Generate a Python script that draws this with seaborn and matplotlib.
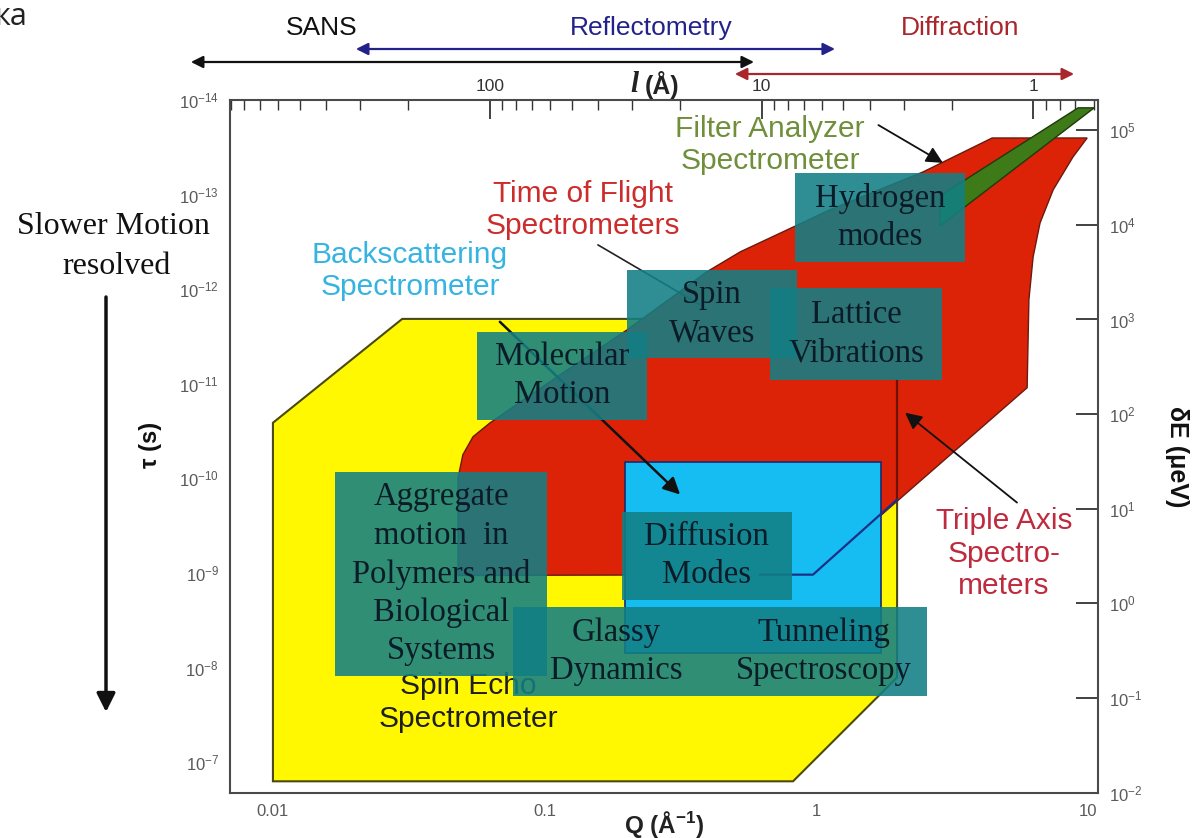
import numpy as np
import pandas as pd
import matplotlib
matplotlib.use("Agg")
import matplotlib.pyplot as plt
from matplotlib.ticker import FuncFormatter, LogLocator, NullLocator, NullFormatter
import seaborn as sns

# ---------------- data (Q in 1/Å, tau in s) ----------------
spin_echo_q = [0.01, 0.01, 0.0299, 1.98, 1.98, 0.82]
spin_echo_tau = [1.59e-7, 2.58e-11, 2.06e-12, 2.06e-12, 1.27e-8, 1.59e-7]

tof_q = [0.048, 0.048, 0.050, 0.0545, 0.063, 0.114, 0.201, 0.395, 0.524, 1.12, 2.47, 4.43,
         9.91, 8.79, 7.43, 6.65, 6.27, 6.05, 5.96, 0.971]
tof_tau = [1.06e-9, 9.82e-11, 5.61e-11, 3.62e-11, 2.58e-11, 8.02e-12, 2.69e-12, 6.55e-13,
           4.03e-13, 1.45e-13, 5.75e-14, 2.52e-14, 2.52e-14, 4.0e-14, 8.91e-14, 1.99e-13,
           4.55e-13, 1.29e-12, 1.10e-11, 1.04e-9]

filter_q = [9.18, 10.52, 2.85, 2.85]
filter_tau = [1.21e-14, 1.21e-14, 2.14e-13, 1.03e-13]

backscatter_q = [0.198, 1.73]
backscatter_tau = [6.65e-11, 6.92e-9]

triple_v_q = [1.98, 1.98]
triple_v_tau = [9.06e-12, 1.67e-10]
triple_d_q = [1.98, 0.971, 0.619]
triple_d_tau = [1.67e-10, 1.04e-9, 1.04e-9]

box_labels = ["Hydrogen\nmodes", "Spin\nWaves", "Lattice\nVibrations", "Molecular\nMotion",
              "Aggregate\nmotion  in\nPolymers and\nBiological\nSystems", "Diffusion\nModes",
              "Glassy\nDynamics", "Tunneling\nSpectroscopy"]
box_q_lo = [0.834, 0.201, 0.675, 0.0564, 0.0169, 0.192, 0.0764, 0.442]
box_q_hi = [3.52, 0.849, 2.90, 0.238, 0.102, 0.813, 0.442, 2.55]
box_tau_lo = [5.90e-14, 6.24e-13, 9.66e-13, 2.82e-12, 8.47e-11, 2.24e-10, 2.26e-9, 2.26e-9]
box_tau_hi = [5.14e-13, 5.30e-12, 9.06e-12, 2.39e-11, 1.24e-8, 1.91e-9, 2.01e-8, 2.01e-8]

inst_labels = ["Filter Analyzer\nSpectrometer", "Time of Flight\nSpectrometers",
               "Backscattering\nSpectrometer", "Spin Echo\nSpectrometer",
               "Triple Axis\nSpectro-\nmeters"]
inst_q = [0.675, 0.138, 0.0319, 0.0523, 4.90]
inst_tau = [2.99e-14, 1.45e-13, 6.40e-13, 2.33e-8, 6.22e-10]

arrow_from_q = [1.69, 0.0684, 5.47]
arrow_from_tau = [1.84e-14, 2.21e-12, 1.80e-10]
arrow_to_q = [2.92, 0.315, 2.12]
arrow_to_tau = [4.62e-14, 1.48e-10, 2.02e-11]

tof_pointer_q = [0.157, 0.373]
tof_pointer_tau = [3.40e-13, 1.46e-12]

range_names = ["SANS", "Reflectometry", "Diffraction"]
range_q_lo = [0.00499, 0.0202, 0.501]
range_q_hi = [0.589, 1.17, 8.87]
range_label_q = [0.0151, 0.246, 3.38]

q_ticks = [0.01, 0.1, 1, 10]
K_EV = 10 ** -8.68          # δE(μeV) = K_EV / τ(s)
L_C = 2 * np.pi             # l(Å) = 2π / Q

# ---------------- style ----------------
sns.set_theme(style="white")
plt.rcParams['font.family'] = ['Liberation Sans', 'DejaVu Sans']
plt.rcParams['mathtext.default'] = 'regular'
SERIF = ['Liberation Serif', 'DejaVu Serif']

W, H = 1195, 838
fig = plt.figure(figsize=(W / 100, H / 100), dpi=100)
ax = fig.add_axes([230 / W, 1 - 793 / H, 868 / W, 693 / H])
ax.set_xscale('log')
ax.set_yscale('log')
ax.set_xlim(10 ** -2.158, 10 ** 1.036)
ax.set_ylim(10 ** -6.675, 1e-14)

# regions
ax.fill(spin_echo_q, spin_echo_tau, facecolor='#fff800', edgecolor='#4a4a10', lw=1.5, zorder=1)
ax.fill(tof_q, tof_tau, facecolor='#dc2207', edgecolor='#6a1a10', lw=1.0, zorder=2)
ax.fill(filter_q, filter_tau, facecolor='#3e7a18', edgecolor='#1d3a0a', lw=1.0, zorder=3)
ax.fill([backscatter_q[0], backscatter_q[1], backscatter_q[1], backscatter_q[0]],
        [backscatter_tau[0], backscatter_tau[0], backscatter_tau[1], backscatter_tau[1]],
        facecolor='#16bdf3', edgecolor='#1a2a70', lw=1.2, zorder=4)

sns.lineplot(x=triple_v_q, y=triple_v_tau, sort=False, estimator=None, color='#6e1208',
             lw=1.6, ax=ax, zorder=5)
sns.lineplot(x=triple_d_q, y=triple_d_tau, sort=False, estimator=None, color='#1d2f86',
             lw=1.6, ax=ax, zorder=5)

# instrument labels
inst_colors = ['#6f8f3a', '#cc2c2c', '#35b4e2', '#1e1e1e', '#bf2a3e']
for lab, q, t, c in zip(inst_labels, inst_q, inst_tau, inst_colors):
    ax.text(q, t, lab, ha='center', va='center', fontsize=21.5, color=c,
            linespacing=1.2, zorder=5 if lab.startswith('Spin') else 9)

# arrows under/over boxes
ax.plot(tof_pointer_q, tof_pointer_tau, color='#222222', lw=1.2, zorder=5)
for i, (q0, t0, q1, t1) in enumerate(zip(arrow_from_q, arrow_from_tau, arrow_to_q, arrow_to_tau)):
    ax.annotate('', xy=(q1, t1), xytext=(q0, t0),
                arrowprops=dict(arrowstyle='-|>', color='#111111', lw=1.8 if i == 1 else 1.3,
                                mutation_scale=25, shrinkA=0, shrinkB=0),
                zorder=6 if i == 1 else 9)

# teal boxes
for lab, q0, q1, t0, t1 in zip(box_labels, box_q_lo, box_q_hi, box_tau_lo, box_tau_hi):
    ax.fill([q0, q1, q1, q0], [t0, t0, t1, t1], facecolor='#127f84', alpha=0.88,
            edgecolor='none', zorder=7)
    ax.text(np.sqrt(q0 * q1), np.sqrt(t0 * t1), lab, ha='center', va='center',
            family=SERIF, fontsize=23.5, color='#0b1b28', linespacing=1.33, zorder=8)

ax.set_xlabel('')
ax.set_ylabel('')

# ---------------- axes / ticks ----------------
for s in ax.spines.values():
    s.set_color('#4a4a4a')
    s.set_linewidth(1.5)
    s.set_zorder(10)

tick_grey = '#5a5a5a'
ax.set_xticks(q_ticks)
ax.xaxis.set_minor_locator(LogLocator(base=10, subs=np.arange(2, 10)))
ax.xaxis.set_minor_formatter(NullFormatter())
ax.xaxis.set_major_formatter(FuncFormatter(lambda v, _: f'{v:g}'))
ax.yaxis.set_major_locator(LogLocator(base=10, numticks=20))
ax.yaxis.set_minor_locator(LogLocator(base=10, subs=np.arange(2, 10), numticks=20))
ax.yaxis.set_minor_formatter(NullFormatter())
ax.yaxis.set_major_formatter(FuncFormatter(lambda v, _: rf'$10^{{{int(round(np.log10(v)))}}}$'))
ax.tick_params(which='major', direction='in', length=14, width=1.3, color='#333333',
               labelsize=12, labelcolor=tick_grey, top=False, right=False, pad=8)
ax.tick_params(which='minor', direction='in', length=7, width=1.0, color='#333333',
               top=False, right=False)

secx = ax.secondary_xaxis('top', functions=(lambda q: L_C / np.clip(q, 1e-30, None),
                                             lambda l: L_C / np.clip(l, 1e-30, None)))
secx.xaxis.set_major_locator(LogLocator(base=10))
secx.xaxis.set_minor_locator(LogLocator(base=10, subs=np.arange(2, 10)))
secx.xaxis.set_minor_formatter(NullFormatter())
secx.xaxis.set_major_formatter(FuncFormatter(lambda v, _: f'{v:g}'))
secx.tick_params(which='major', direction='in', length=14, width=1.3, color='#333333',
                 labelsize=12.5, labelcolor='#333333', pad=4)
secx.tick_params(which='minor', direction='in', length=7, width=1.0, color='#333333')

secy = ax.secondary_yaxis('right', functions=(lambda t: K_EV / np.clip(t, 1e-40, None),
                                               lambda e: K_EV / np.clip(e, 1e-40, None)))
secy.yaxis.set_major_locator(LogLocator(base=10, numticks=20))
secy.yaxis.set_minor_locator(NullLocator())
secy.yaxis.set_major_formatter(FuncFormatter(lambda v, _: rf'$10^{{{int(round(np.log10(v)))}}}$'))
secy.tick_params(which='major', direction='in', length=16, width=1.3, color='#333333',
                 labelsize=12, labelcolor=tick_grey, pad=8)

# axis titles
fig.text(664 / W, 1 - 824 / H, 'Q (Å$^{-1}$)', ha='center', va='center', fontsize=17.5,
         fontweight='bold', color='#222222')
fig.text(634 / W, 1 - 84 / H, 'l', ha='center', va='center', fontsize=21, family=SERIF,
         style='italic', fontweight='bold', color='#222222')
fig.text(645 / W, 1 - 85 / H, '(Å)', ha='left', va='center', fontsize=18,
         fontweight='bold', color='#222222')
fig.text(150 / W, 1 - 445 / H, 'τ (s)', ha='center', va='center', fontsize=17,
         fontweight='bold', rotation=90, color='#111111')
fig.text(1177 / W, 1 - 457 / H, 'δE (μeV)', ha='center', va='center', fontsize=18,
         fontweight='bold', rotation=-90, color='#111111')

# top technique ranges
range_colors = ['#111111', '#22228a', '#a8262c']
range_y = [62, 49, 74]
for name, lo, hi, lq, c, py in zip(range_names, range_q_lo, range_q_hi, range_label_q,
                                    range_colors, range_y):
    ax.annotate('', xy=(hi, 1 - py / H), xytext=(lo, 1 - py / H),
                xycoords=('data', 'figure fraction'), textcoords=('data', 'figure fraction'),
                arrowprops=dict(arrowstyle='<|-|>', color=c, lw=1.6, mutation_scale=18,
                                shrinkA=0, shrinkB=0), annotation_clip=False)
    ax.annotate(name, xy=(lq, 1 - 28 / H), xycoords=('data', 'figure fraction'),
                ha='center', va='center', fontsize=19, color=c, annotation_clip=False)

# slower motion note
fig.text(113 / W, 1 - 226 / H, 'Slower Motion', ha='center', va='center', fontsize=23,
         family=SERIF, color='#111111')
fig.text(117 / W, 1 - 266 / H, 'resolved', ha='center', va='center', fontsize=23,
         family=SERIF, color='#111111')
ax.annotate('', xy=(106 / W, 1 - 712 / H), xytext=(106 / W, 1 - 297 / H),
            xycoords='figure fraction', textcoords='figure fraction',
            arrowprops=dict(arrowstyle='-|>', color='#111111', lw=2.5, mutation_scale=28,
                            shrinkA=0, shrinkB=0), annotation_clip=False)

fig.text(-6 / W, 1 - 2 / H, 'ка', ha='left', va='top', fontsize=22,
         family=['Open Sans', 'DejaVu Sans'], color='#222222')

fig.savefig('out.png', dpi=100, facecolor='white')
